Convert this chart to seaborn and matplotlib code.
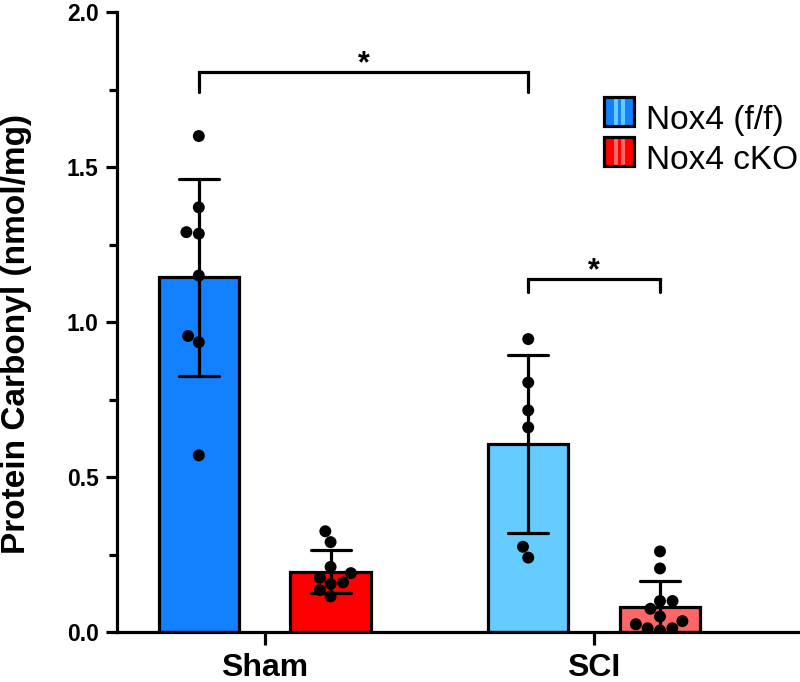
import matplotlib
matplotlib.use('Agg')
import matplotlib.pyplot as plt
from matplotlib.patches import Rectangle, Patch
from matplotlib.ticker import MultipleLocator, FormatStrFormatter
import pandas as pd
import seaborn as sns

groups = ['Sham', 'SCI']
genotypes = ['Nox4 (f/f)', 'Nox4 cKO']

sham_ff = [1.60, 1.37, 1.29, 1.285, 1.15, 0.955, 0.935, 0.57]
sham_cko = [0.325, 0.29, 0.21, 0.19, 0.175, 0.16, 0.155, 0.135, 0.115]
sci_ff = [0.945, 0.805, 0.715, 0.66, 0.275, 0.24]
sci_cko = [0.26, 0.205, 0.10, 0.10, 0.075, 0.05, 0.035, 0.025, 0.012, 0.012, 0.005]

dark_colors = ['#1280FF', '#FF0000']
light_colors = ['#66CCFF', '#FF6666']

rows = []
for g, gt, vals in [('Sham', genotypes[0], sham_ff), ('Sham', genotypes[1], sham_cko),
                    ('SCI', genotypes[0], sci_ff), ('SCI', genotypes[1], sci_cko)]:
    for v in vals:
        rows.append(dict(group=g, genotype=gt, value=v))
df = pd.DataFrame(rows)

sns.set_style('ticks', rc={'axes.edgecolor': 'black', 'text.color': 'black',
                           'axes.labelcolor': 'black', 'xtick.color': 'black',
                           'ytick.color': 'black'})
plt.rcParams['font.family'] = ['Liberation Sans', 'DejaVu Sans']

fig = plt.figure(figsize=(8, 6.82), dpi=100)
ax = fig.add_axes([0.146, 0.0733, 0.854, 0.909])

WIDTH = 0.8
LW = 2.3

sns.barplot(data=df, x='group', y='value', hue='genotype', order=groups, hue_order=genotypes,
            palette=dark_colors, errorbar='sd', capsize=0.243, width=WIDTH, gap=0.39,
            edgecolor='black', linewidth=LW, err_kws={'color': 'black', 'linewidth': LW},
            legend=False, ax=ax)

# SCI bars use the lighter shade
for patch, col in zip(ax.patches, [dark_colors[0], light_colors[0], dark_colors[1], light_colors[1]]):
    patch.set_facecolor(col)

sns.swarmplot(data=df, x='group', y='value', hue='genotype', order=groups, hue_order=genotypes,
              dodge=True, palette=['black', 'black'], size=8.6, legend=False, zorder=3, ax=ax)

ax.set_ylim(0, 2)
ax.set_xlim(-0.449, 1.625)
ax.yaxis.set_major_locator(MultipleLocator(0.5))
ax.yaxis.set_minor_locator(MultipleLocator(0.25))
ax.yaxis.set_major_formatter(FormatStrFormatter('%.1f'))
ax.tick_params(axis='y', which='major', width=LW, length=8, pad=5)
ax.tick_params(axis='y', which='minor', width=LW, length=6)
ax.tick_params(axis='x', which='major', width=LW, length=9, pad=6)
for lab in ax.get_yticklabels():
    lab.set_fontweight('bold')
    lab.set_fontsize(16.5)
for lab in ax.get_xticklabels():
    lab.set_fontweight('bold')
    lab.set_fontsize(23)

ax.set_xlabel('')
ax.set_ylabel('Protein Carbonyl (nmol/mg)', fontsize=24, fontweight='bold')
ax.yaxis.set_label_coords(-0.1245, 0.48)
sns.despine(ax=ax)
for s in ['left', 'bottom']:
    ax.spines[s].set_linewidth(LW)

# significance brackets
off = WIDTH / 4
def bracket(x1, x2, y, drop):
    ax.plot([x1, x1, x2, x2], [y - drop, y, y, y - drop], color='black', lw=LW,
            solid_joinstyle='miter', solid_capstyle='round', zorder=4)
    ax.text((x1 + x2) / 2, y, '*', ha='center', va='baseline', fontsize=22, fontweight='bold')

bracket(0 - off, 1 - off, 1.806, 0.064)
bracket(1 - off, 1 + off, 1.139, 0.042)


class StripedHandler:
    def __init__(self, dark, light):
        self.dark = dark
        self.light = light

    def legend_artist(self, legend, orig_handle, fontsize, handlebox):
        x0, y0 = handlebox.xdescent, handlebox.ydescent
        w, h = handlebox.width, handlebox.height
        tr = handlebox.get_transform()
        handlebox.add_artist(Rectangle((x0, y0), w, h, facecolor=self.dark, edgecolor='none', transform=tr))
        for a, b in [(0.33, 0.46), (0.57, 0.70)]:
            handlebox.add_artist(Rectangle((x0 + a * w, y0), (b - a) * w, h, facecolor=self.light,
                                           edgecolor='none', transform=tr))
        border = Rectangle((x0, y0), w, h, facecolor='none', edgecolor='black', linewidth=LW, transform=tr)
        handlebox.add_artist(border)
        return border


handles = [Patch(label=g) for g in genotypes]
hmap = {h: StripedHandler(d, l) for h, d, l in zip(handles, dark_colors, light_colors)}
fig.legend(handles=handles, labels=genotypes, handler_map=hmap, loc='upper left',
           bbox_to_anchor=(604 / 800, 1 - 103 / 682), frameon=False, fontsize=24,
           handlelength=0.9, handleheight=0.96, handletextpad=0.36, labelspacing=0.22,
           borderpad=0, borderaxespad=0)

fig.savefig('out.png', dpi=100)
